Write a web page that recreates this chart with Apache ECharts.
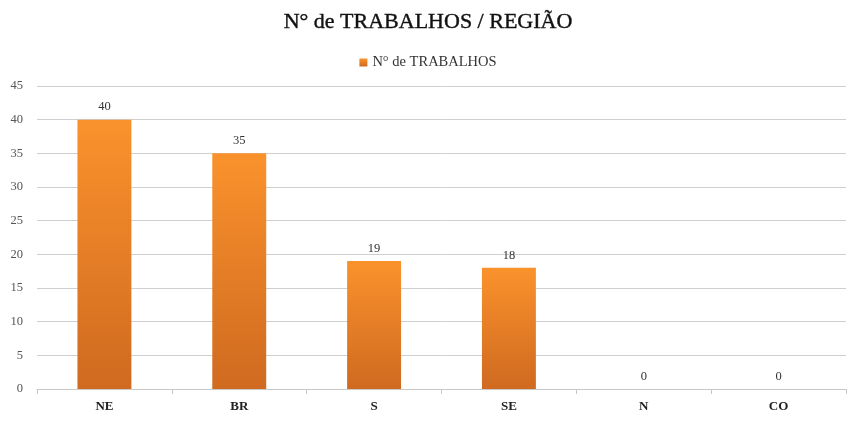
<!DOCTYPE html>
<html>
<head>
<meta charset="utf-8">
<script src="https://cdn.jsdelivr.net/npm/echarts@6/dist/echarts.min.js"></script>
<style>html,body{margin:0;padding:0;background:#fff}#c{width:856px;height:423px}</style>
</head>
<body>
<div id="c"></div>
<script>
const categories = ['NE', 'BR', 'S', 'SE', 'N', 'CO'];
const values = [40, 35, 19, 18, 0, 0];
const seriesName = 'N° de TRABALHOS';
const titleText = 'N° de TRABALHOS / REGIÃO';

const serif = '"Liberation Serif", "DejaVu Serif", serif';
const chart = echarts.init(document.getElementById('c'));
chart.setOption({
  animation: false,
  backgroundColor: '#fff',
  title: {
    text: titleText,
    left: 'center',
    top: 6,
    textStyle: { fontFamily: serif, fontSize: 22, fontWeight: 'normal', color: '#111', textBorderColor: '#111', textBorderWidth: 0.4 }
  },
  legend: {
    top: 50,
    left: 'center',
    itemWidth: 8,
    itemHeight: 8,
    itemGap: 4,
    icon: 'rect',
    textStyle: { fontFamily: serif, fontSize: 14.5, color: '#333' },
    data: [seriesName]
  },
  grid: { left: 37, right: 10, top: 86, bottom: 34, containLabel: false },
  xAxis: {
    type: 'category',
    data: categories,
    axisLine: { lineStyle: { color: '#c8c8c8', width: 1 } },
    axisTick: { show: true, length: 5, lineStyle: { color: '#c8c8c8' } },
    axisLabel: { fontFamily: serif, fontSize: 13, fontWeight: 'bold', color: '#222', margin: 11 }
  },
  yAxis: {
    type: 'value',
    min: 0,
    max: 45,
    interval: 5,
    axisLine: { show: false },
    axisTick: { show: false },
    splitLine: { lineStyle: { color: '#cfcfcf', width: 1 } },
    axisLabel: { fontFamily: serif, fontSize: 12.5, color: '#555', margin: 14 }
  },
  series: [{
    name: seriesName,
    type: 'bar',
    data: values,
    barWidth: '40%',
    itemStyle: {
      color: new echarts.graphic.LinearGradient(0, 0, 0, 1, [
        { offset: 0, color: '#fa922c' },
        { offset: 1, color: '#cf6a20' }
      ])
    },
    label: {
      show: true,
      position: 'top',
      distance: 6,
      fontFamily: serif,
      fontSize: 12.5,
      color: '#333'
    }
  }]
});
</script>
</body>
</html>
